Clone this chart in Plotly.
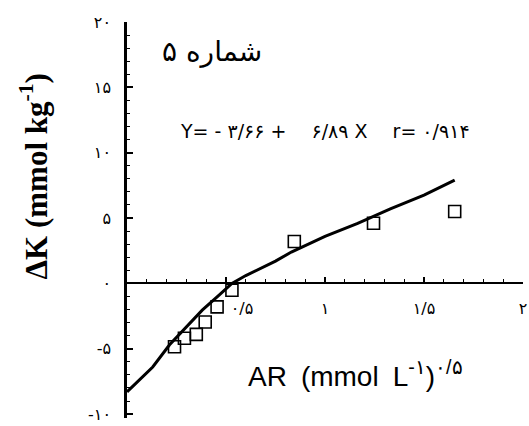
import plotly.graph_objects as go

# data
point_x = [0.24, 0.29, 0.35, 0.395, 0.455, 0.53, 0.845, 1.245, 1.655]
point_y = [-4.85, -4.2, -3.9, -2.95, -1.8, -0.53, 3.2, 4.6, 5.5]
curve_x = [0, 0.13, 0.215, 0.3, 0.38, 0.465, 0.53, 0.6, 0.665, 0.75, 0.83, 1.0, 1.165, 1.33, 1.5, 1.655]
curve_y = [-8.3, -6.4, -4.7, -3.3, -2.05, -0.9, 0.0, 0.6, 1.06, 1.7, 2.4, 3.6, 4.6, 5.7, 6.75, 7.9]
x_tickvals = [0.5, 1, 1.5, 2]
x_ticktext = ['\u2003\u2003۰/۵', '۱', '۱/۵', '۲']
y_tickvals = [-10, -5, 0, 5, 10, 15, 20]
y_ticktext = ['-۱۰', '-۵', '۰', '۵', '۱۰', '۱۵', '۲۰']
title_text = 'شماره ۵'
equation_text = 'Y= - ۳/۶۶ +\u2003 ۶/۸۹ X\u2003 r= ۰/۹۱۴'
x_title = 'AR\u2002(mmol\u2002L<sup>-۱</sup>)<sup>۰/۵</sup>'
y_title = '<b>ΔK (mmol kg<sup>-1</sup>)</b>'

fig = go.Figure()
fig.add_trace(go.Scatter(x=curve_x, y=curve_y, mode='lines',
                         line=dict(color='black', width=3), showlegend=False))
fig.add_trace(go.Scatter(x=point_x, y=point_y, mode='markers',
                         marker=dict(symbol='square-open', size=12, color='black',
                                     line=dict(width=1.6, color='black')),
                         showlegend=False))

ymin, ymax = -10.3, 20
fig.update_layout(
    width=529, height=426,
    margin=dict(l=127, r=2, t=22, b=4),
    paper_bgcolor='white', plot_bgcolor='white',
    font=dict(family='DejaVu Sans', color='black'),
    xaxis=dict(range=[0, 2], showgrid=False, zeroline=False,
               showline=True, linecolor='black', linewidth=2,
               anchor='free', position=(0 - ymin) / (ymax - ymin),
               ticks='inside', ticklen=5, tickwidth=1.5, tickcolor='black',
               tickvals=x_tickvals, ticktext=x_ticktext,
               ticklabelstandoff=10, ticklabeloverflow='allow',
               tickfont=dict(family='DejaVu Sans', size=16, color='black'),
               minor=dict(dtick=0.1, ticks='inside', ticklen=3, tickwidth=1.2, tickcolor='black')),
    yaxis=dict(range=[ymin, ymax], showgrid=False, zeroline=False,
               showline=True, linecolor='black', linewidth=2.5,
               ticks='inside', ticklen=6, tickwidth=1.5, tickcolor='black',
               tickvals=y_tickvals, ticktext=y_ticktext,
               ticklabelstandoff=10, ticklabeloverflow='allow',
               tickfont=dict(family='DejaVu Sans', size=16, color='black'),
               minor=dict(dtick=1, tick0=0, ticks='inside', ticklen=3, tickwidth=1.2, tickcolor='black')),
)

fig.add_annotation(text=title_text, xref='paper', yref='paper', x=0.215, y=0.925,
                   xanchor='center', yanchor='middle',
                   showarrow=False, font=dict(family='DejaVu Sans', size=28, color='black'))
fig.add_annotation(text=equation_text, xref='paper', yref='paper', x=0.5, y=0.725,
                   xanchor='center', yanchor='middle',
                   showarrow=False, font=dict(family='DejaVu Sans', size=19, color='black'))
fig.add_annotation(text=x_title, xref='paper', yref='paper', x=0.3, y=0.11,
                   xanchor='left', yanchor='middle', showarrow=False,
                   font=dict(family='Liberation Sans', size=28, color='black'))
fig.add_annotation(text=y_title, xref='paper', yref='paper', x=-0.235, y=0.61,
                   xanchor='center', yanchor='middle',
                   textangle=-90, showarrow=False,
                   font=dict(family='Liberation Serif', size=31, color='black'))

fig.write_html("out.html", config={'displayModeBar': False},
               post_script="document.body.style.margin='0';")
